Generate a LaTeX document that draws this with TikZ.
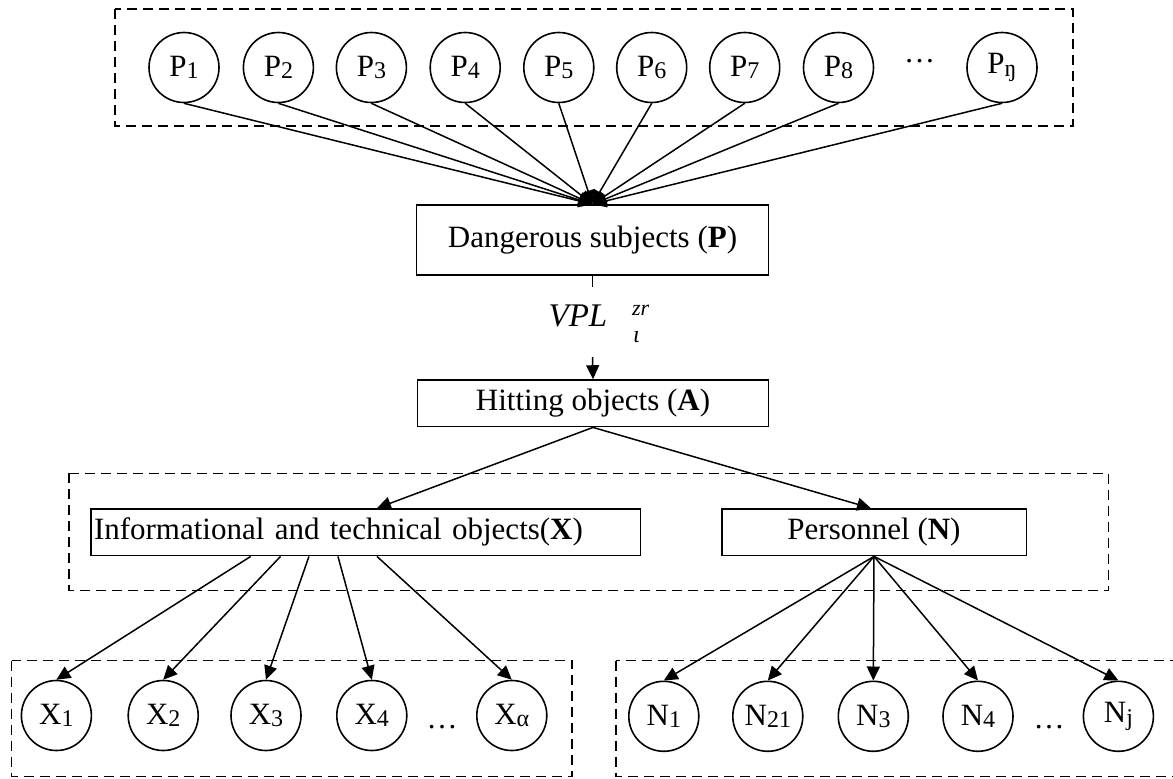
\documentclass[tikz,border=0pt]{standalone}
\usepackage{fontspec}
\setmainfont{Liberation Serif}
\usetikzlibrary{arrows.meta}
\newcommand\sbs[1]{\raisebox{-1.2pt}{\fontsize{12}{12}\selectfont #1}}
\begin{document}
\begin{tikzpicture}[x=0.5pt,y=-0.5pt,
  font=\fontsize{15.5}{18}\selectfont,
  circ/.style={circle,draw,line width=0.8pt,minimum size=35pt,inner sep=0pt},
  rbox/.style={rectangle,draw,line width=0.75pt,inner sep=0pt,minimum height=23.35pt},
  grp/.style={draw,line width=0.75pt,dash pattern=on 5pt off 3pt},
  con/.style={line width=0.75pt},
  arr/.style={line width=0.75pt,-{Triangle[length=7pt,width=6.5pt]}}]
\useasboundingbox (0,0) rectangle (1173,778);
% group frames
\draw[grp] (114.8,9) rectangle (1072.8,126);
\draw[grp] (69,473.3) rectangle (1108.4,590.7);
\draw[grp] (11.5,660.7) rectangle (572,776.7);
\draw[grp] (616,660.7) rectangle (1190,776.7);
% P row
\foreach \i/\x/\s in {1/184/1,2/278.4/2,3/371.4/3,4/465.2/4,5/558.8/5,6/651.7/6,7/744.7/7,8/838.5/8,9/1002/ŋ}
  \node[circ] (P\i) at (\x,67.5) {P\sbs{\s}};
\node[anchor=base] (pdots) at (919.6,62) {…};
% main boxes
\node[rbox,minimum width=175.8pt,minimum height=35pt] (dang) at (592.5,240) {\raisebox{3.3pt}{Dangerous subjects (\textbf{P})}};
\node[rbox,minimum width=175.3pt] (hit) at (593,403.3) {\raisebox{1.7pt}{Hitting objects (\textbf{A})}};
\node[rbox,text width=271.75pt,inner xsep=1.5pt,align=left] (inf) at (365.75,532.3) {Informational and technical objects(\textbf{X})};
\node[rbox,minimum width=152.25pt] (pers) at (874,532.3) {Personnel (\textbf{N})};
% VPL label
\node[anchor=base,inner sep=0pt,font=\fontsize{16.5}{18}\selectfont\itshape] (vpl) at (578,326.7) {VPL};
\node[anchor=base west,inner sep=0pt,font=\fontsize{11}{12}\selectfont\itshape] (vsup) at (631.7,315) {zr};
\node[anchor=base west,inner sep=0pt,font=\fontsize{12}{12}\selectfont\itshape] (vsub) at (632.7,342) {ι};
\coordinate (s1) at (592.5,287);
\coordinate (s2) at (592.5,357);
% X row
\foreach \i/\x/\s in {1/56.4/1,2/163.2/2,3/266/3,4/371.8/4,5/511.8/α}
  \node[circ] (X\i) at (\x,715.5) {X\sbs{\s}};
\node[anchor=base] (xdots) at (442,728) {…};
% N row
\foreach \i/\x/\s in {1/663.8/1,2/767.8/21,3/873.3/3,4/978/4,5/1118.4/j}
  \node[circ] (N\i) at (\x,716.3) {N\sbs{\s}};
\node[anchor=base] (ndots) at (1049,728) {…};
% connectors
\foreach \i in {1,...,9}
  \draw[arr] (P\i.south) -- (dang.north);
\draw[con] (dang.south) -- (s1);
\draw[arr] (s2) -- (hit.north);
\draw[arr] (hit.south) -- ([xshift=5.6pt]inf.north);
\draw[arr] (hit.south) -- ([xshift=-1.5pt]pers.north);
\foreach \i/\d in {1/-57.5,2/-42.6,3/-28.4,4/-13.9,5/5.6}
  \draw[arr] ([xshift=\d pt]inf.south) -- (X\i.north);
\foreach \i in {1,...,5}
  \draw[arr] (pers.south) -- (N\i.north);
\end{tikzpicture}
\end{document}
